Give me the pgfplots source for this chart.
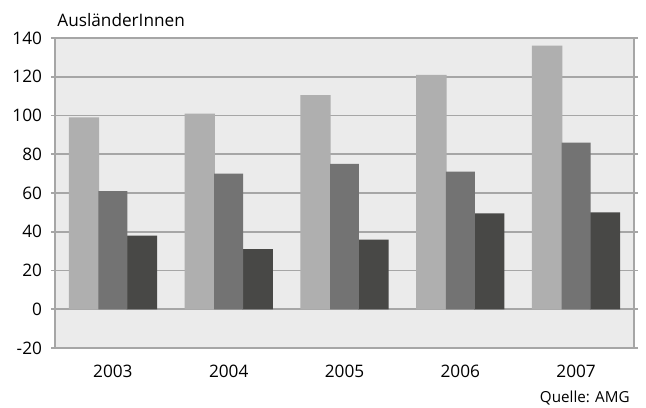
\documentclass[border=0pt]{standalone}
\usepackage{pgfplots}
\pgfplotsset{compat=1.18}
\usepackage{fontspec}
\setmainfont{Open Sans}

\definecolor{barA}{HTML}{AFAFAF}
\definecolor{barB}{HTML}{737373}
\definecolor{barC}{HTML}{484846}
\definecolor{plotbg}{HTML}{EBEBEB}
\definecolor{gridc}{HTML}{A6A6A6}

\begin{document}
\begin{tikzpicture}
\path[use as bounding box] (-27.5pt,-29.5pt) rectangle (295.5pt,174pt);
\begin{axis}[
  scale only axis,
  width=289.5pt, height=155pt,
  xmin=-0.5, xmax=4.5,
  ymin=-20, ymax=140,
  ytick={-20,0,20,...,140},
  xtick={0,1,2,3,4},
  xticklabels={2003,2004,2005,2006,2007},
  /pgf/number format/assume math mode=true,
  tick label style={font=\fontsize{8.6}{10}\selectfont, text=black},
  yticklabel style={xshift=-1pt},
  xticklabel style={yshift=-3pt},
  x tick style={draw=none},
  y tick style={draw=gridc, line width=0.9pt},
  tick align=outside,
  major tick length=2pt,
  ymajorgrids,
  grid style={draw=gridc, line width=0.9pt},
  axis line style={draw=gridc, line width=1pt},
  axis background/.style={fill=plotbg},
  ybar,
  bar width=0.262,
  every axis plot/.append style={draw=none},
  clip=false,
]
\addplot[fill=barA, bar shift=-0.25] coordinates {(0,99) (1,101) (2,110.5) (3,121) (4,136)};
\addplot[fill=barC, bar shift=0.25] coordinates {(0,38) (1,31) (2,36) (3,49.5) (4,50)};
\addplot[fill=barB, bar shift=0, bar width=0.25] coordinates {(0,61) (1,70) (2,75) (3,71) (4,86)};
\node[anchor=base west, font=\fontsize{8.6}{10}\selectfont, inner sep=0pt]
  at (rel axis cs:0,1) [xshift=1pt, yshift=5.5pt] {AusländerInnen};
\node[anchor=base east, font=\fontsize{7.6}{9}\selectfont, inner sep=0pt]
  at (rel axis cs:1,0) [xshift=-2pt, yshift=-27pt] {Quelle: AMG};
\end{axis}
\end{tikzpicture}
\end{document}
